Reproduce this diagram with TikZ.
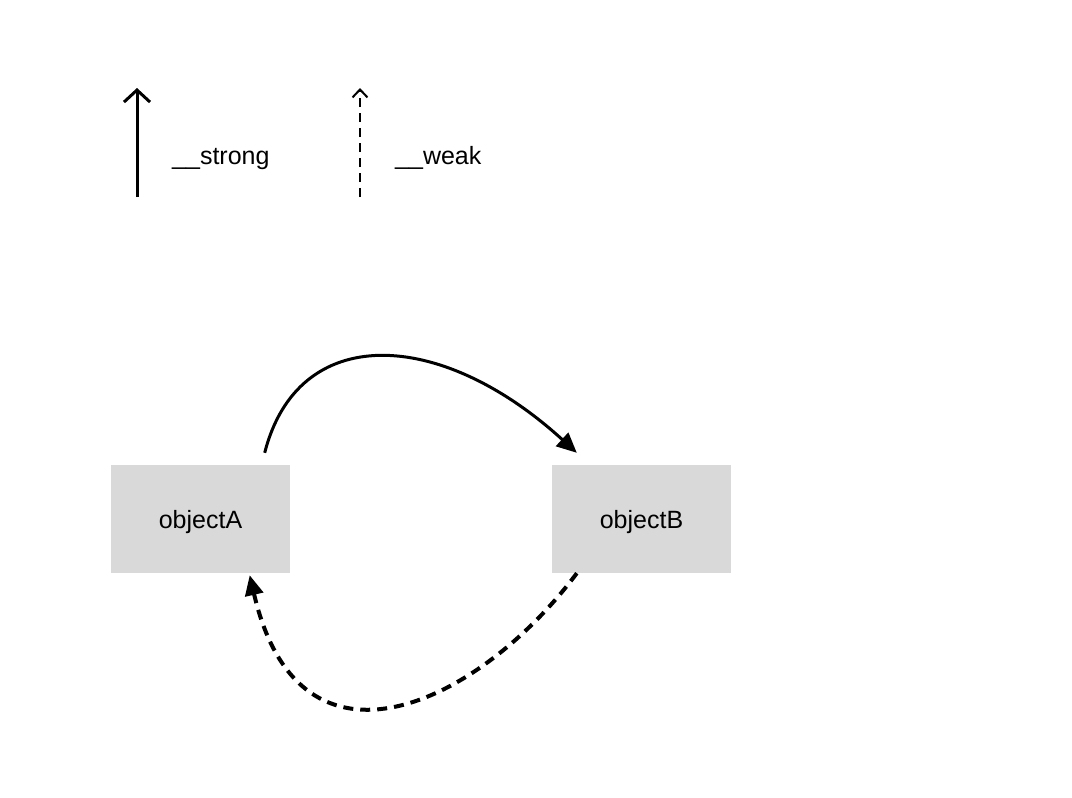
\documentclass[tikz,border=0pt]{standalone}
\usepackage{fontspec}
\setmainfont{Liberation Sans}
\usetikzlibrary{
    arrows.meta,
    positioning
}
\definecolor{boxgray}{HTML}{D9D9D9}
\tikzset{objbox/.style={fill=boxgray, minimum width=179pt, minimum height=108pt, inner sep=0pt, text height=19pt, text depth=0pt, font=\fontsize{25}{30}\selectfont}}
\tikzset{legtext/.style={anchor=west, inner sep=0pt, font=\fontsize{25}{30}\selectfont}}
\tikzset{strongarr/.style={line width=3pt, -{Straight Barb[length=12pt, width=26pt]}}}
\tikzset{weakarr/.style={line width=2pt, dash pattern=on 9pt off 6pt, -{Straight Barb[length=8pt, width=15pt]}}}

\begin{document}
\begin{tikzpicture}[x=1pt, y=-1pt]
                        \useasboundingbox (0, 0) rectangle (1072, 798);
                        \coordinate (s0) at (137, 197);
                        \coordinate (s1) at (137, 88);
                        \coordinate (w0) at (360, 197);
                        \coordinate (w1) at (360, 88);
                        \node[legtext] (strong) at (172, 159) {\_\_strong};
                        \node[legtext] (weak) at (395, 158) {\_\_weak};
                        \node[objbox] (objA) at (200.5, 519) {objectA};
                        \node[objbox] (objB) at (641.5, 519) {objectB};

                        \draw[strongarr] (s0) -- (s1);
                        \draw[weakarr] (w0) -- (w1);

                        \draw[line width=3pt, -{Triangle[length=20pt, width=18pt]}]
                        ([xshift=-25.5pt, yshift=12pt]objA.north east) .. controls (298, 322) and (440, 328) .. ([xshift=25pt, yshift=12pt]objB.north west);
                        \draw[line width=4pt, dash pattern=on 10pt off 7pt, -{Triangle[length=20pt, width=18pt]}]
                        ([xshift=25pt]objB.south west) .. controls (480, 703) and (300, 792) .. ([xshift=-40.5pt, yshift=-2pt]objA.south east);
                    \end{tikzpicture}
\end{document}
